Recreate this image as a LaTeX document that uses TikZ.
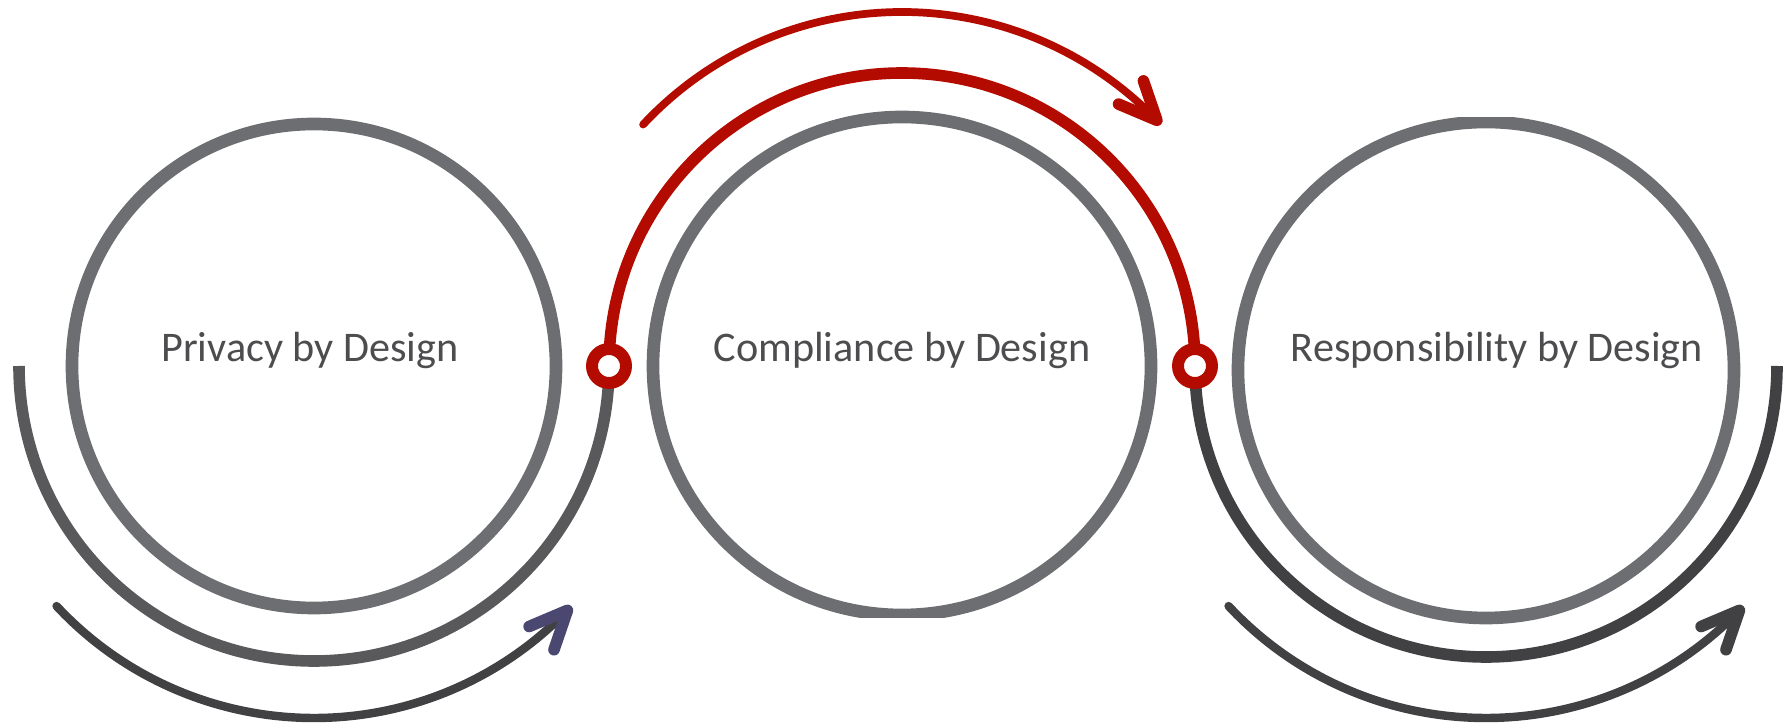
\documentclass[tikz,border=0pt]{standalone}
\usepackage{fontspec}
\setmainfont{Carlito}
\usetikzlibrary{arrows.meta,bending}

\definecolor{ringgray}{HTML}{6D6E71}
\definecolor{arcgray}{HTML}{59595C}
\definecolor{arrowgray}{HTML}{414143}
\definecolor{designred}{HTML}{B30B00}
\definecolor{tippurple}{HTML}{4A4870}
\definecolor{textgray}{HTML}{4D4D4F}

\begin{document}
\begin{tikzpicture}[x=0.01cm, y=0.01cm,
    ring/.style={draw=ringgray, line width=3.6pt},
    wrap/.style={draw=arcgray, line width=3.3pt},
    turn/.style={draw=arrowgray, line width=2.4pt, line cap=round,
      -{Straight Barb[length=0.38cm, width=0.34cm, round, line width=3.3pt]}},
    knot/.style={draw=designred, fill=white, line width=3.4pt},
    lbl/.style={font=\fontsize{12}{14}\selectfont, text=textgray}]
  \useasboundingbox (0,0) rectangle (1784,727);

  \coordinate (pc) at (314,361);
  \coordinate (cc) at (902,361);
  \coordinate (rc) at (1486,357);
  \coordinate (rw) at (1486,361);
  \coordinate (lk) at (609,361);
  \coordinate (rk) at (1195,361);

  \draw[ring] (pc) circle[radius=242];
  \begin{scope}
    \clip (600,109) rectangle (1200,727);
    \draw[ring] (cc) circle[radius=249];
  \end{scope}
  \begin{scope}
    \clip (1150,0) rectangle (1784,609);
    \draw[ring] (rc) circle[radius=248];
  \end{scope}

  \draw[wrap] (lk) arc[start angle=0, end angle=-180, radius=295];
  \draw[wrap, draw=designred] (lk) arc[start angle=180, end angle=0, radius=293];
  \draw[wrap, draw=arrowgray] (rk) arc[start angle=180, end angle=360, radius=291];

  \draw[turn, -{Straight Barb[length=0.38cm, width=0.34cm, round, line width=3.3pt, color=tippurple]}]
    ([shift={(223:352)}]pc) arc[start angle=223, end angle=317, radius=352];
  \draw[turn, draw=designred, line width=2.2pt]
    ([shift={(137:354)}]cc) arc[start angle=137, end angle=43, radius=354];
  \draw[turn]
    ([shift={(223:352)}]rw) arc[start angle=223, end angle=317, radius=352];

  \draw[knot] (lk) circle[radius=17];
  \draw[knot] (rk) circle[radius=17];

  \node[lbl] (ptext) at ([xshift=-0.04cm, yshift=0.16cm]pc) {Privacy by Design};
  \node[lbl] (ctext) at ([yshift=0.16cm]cc) {Compliance by Design};
  \node[lbl] (rtext) at ([xshift=0.11cm, yshift=0.2cm]rc) {Responsibility by Design};
\end{tikzpicture}
\end{document}
